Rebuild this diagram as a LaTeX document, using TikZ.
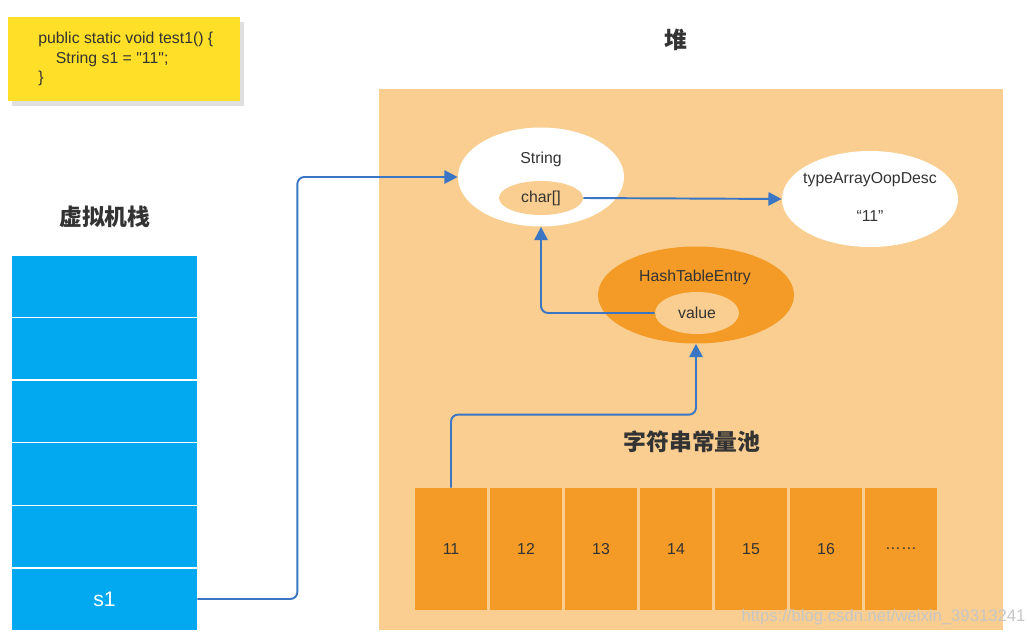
\documentclass[tikz,border=0pt]{standalone}
\usepackage{fontspec}
\setmainfont{Liberation Sans}
\newfontfamily\cjk{Noto Sans CJK SC}
\usepackage{xcolor}
\usepackage{tikz}
\usetikzlibrary{shapes.geometric,arrows.meta,shadows}
\definecolor{codeyellow}{HTML}{FFDF27}
\definecolor{heapbg}{HTML}{F9CE90}
\definecolor{poolorange}{HTML}{F39B26}
\definecolor{stackblue}{HTML}{03A9F0}
\definecolor{linkblue}{HTML}{3B76C4}
\definecolor{txt}{HTML}{333333}

\begin{document}
\begin{tikzpicture}[
    slot/.style={fill=stackblue,minimum width=3.7cm,minimum height=1.22cm,inner sep=0pt,font=\fontsize{12}{14}\selectfont,text=white},
    cell/.style={fill=poolorange,minimum width=1.44cm,minimum height=2.44cm,inner sep=0pt,text=txt},
    obj/.style={ellipse,fill=white,inner sep=0pt},
    field/.style={ellipse,fill=heapbg,inner sep=0pt,text=txt},
    title/.style={font=\cjk\bfseries\fontsize{13}{15}\selectfont,text=txt},
    link/.style={->,draw=linkblue,line width=1.1pt,rounded corners=4pt},
    >={Triangle[length=7.5pt,width=7.5pt]},
    font=\small,
]
    \useasboundingbox (0,0) rectangle (20.54,12.72);

    % code
    \node[fill=codeyellow,minimum width=4.64cm,minimum height=1.68cm,
          drop shadow={shadow xshift=0.08cm,shadow yshift=-0.1cm,opacity=0.25}] (codebox) at (2.48,11.54) {};
    \node[anchor=west,align=left,inner sep=0pt,text=txt] (code) at (0.76,11.54)
        {public static void test1() \{\\\hspace*{10pt}String s1 = \textquotedbl 11\textquotedbl;\\\}};

    % stack
    \node[title] (stacktitle) at (2.10,8.38) {虚拟机栈};
    \node[slot] (slot1) at (2.09,6.99) {};
    \node[slot] (slot2) at (2.09,5.74) {};
    \node[slot] (slot3) at (2.09,4.49) {};
    \node[slot] (slot4) at (2.09,3.24) {};
    \node[slot] (slot5) at (2.09,1.99) {};
    \node[slot] (s1) at (2.09,0.74) {s1};

    % heap
    \node[title] (heaptitle) at (13.52,11.92) {堆};
    \node[fill=heapbg,minimum width=12.48cm,minimum height=10.82cm,inner sep=0pt] (heap) at (13.82,5.53) {};

    \node[obj,minimum width=3.32cm,minimum height=1.98cm] (str) at (10.82,9.18) {};
    \node[text=txt] (strlbl) at (10.82,9.54) {String};
    \node[field,minimum width=1.68cm,minimum height=0.68cm] (chars) at (10.82,8.76) {char[]};

    \node[obj,minimum width=3.52cm,minimum height=1.92cm] (tad) at (17.40,8.74) {};
    \node[text=txt] (tadlbl) at (17.40,9.12) {typeArrayOopDesc};
    \node[text=txt] (tadval) at (17.40,8.40) {“11”};

    \node[ellipse,fill=poolorange,inner sep=0pt,minimum width=3.92cm,minimum height=1.94cm] (hte) at (13.92,6.82) {};
    \node[text=txt] (htelbl) at (13.90,7.18) {HashTableEntry};
    \node[field,minimum width=1.68cm,minimum height=0.84cm] (val) at (13.94,6.46) {value};

    % string pool
    \node[title] (pooltitle) at (13.84,3.88) {字符串常量池};
    \node[cell] (p11) at (9.02,1.74) {11};
    \node[cell] (p12) at (10.52,1.74) {12};
    \node[cell] (p13) at (12.02,1.74) {13};
    \node[cell] (p14) at (13.52,1.74) {14};
    \node[cell] (p15) at (15.02,1.74) {15};
    \node[cell] (p16) at (16.52,1.74) {16};
    \node[cell] (pmore) at (18.02,1.74) {……};

    \draw[link] (s1.east) -- ++(2.0,0) |- (str.west);
    \draw[link] (chars.east) -- (tad.west);
    \draw[link] (val.west) -| (str.south);
    \draw[link] (p11.north) -- ++(0,1.46) -| (hte.south);

    \node[text=gray!45,font=\fontsize{9.5}{11}\selectfont] (mark) at (17.67,0.38) {https://blog.csdn.net/weixin\_39313241};
\end{tikzpicture}
\end{document}
